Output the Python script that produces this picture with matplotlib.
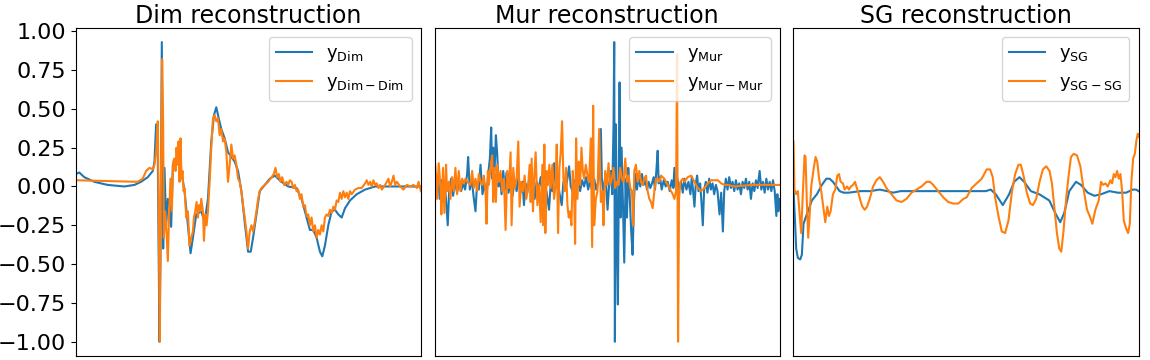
import numpy as np
import matplotlib
matplotlib.use("Agg")
import matplotlib.pyplot as plt

# (sample, value) readings for each reconstructed signal
dim_orig = [(0, 0.08), (10, 0.09), (25, 0.06), (55, 0.03), (95, 0.01), (145, 0.00), (175, 0.01),
            (195, 0.03), (215, 0.06), (230, 0.10), (235, 0.16), (240, 0.40), (245, 0.18), (250, -1.00),
            (253, -0.46), (257, 0.93), (261, -0.40), (265, 0.12), (270, -0.25), (275, -0.08), (280, -0.12),
            (285, -0.26), (290, 0.14), (295, 0.16), (300, 0.14), (305, 0.22), (315, 0.10), (325, -0.03),
            (335, -0.25), (343, -0.43), (350, -0.33), (360, -0.18), (375, -0.16), (385, -0.23), (395, -0.08),
            (405, 0.29), (413, 0.46), (420, 0.51), (427, 0.44), (435, 0.37), (445, 0.31), (455, 0.22),
            (475, 0.16), (485, 0.10), (495, -0.03), (505, -0.23), (515, -0.42), (523, -0.42), (530, -0.33),
            (540, -0.18), (550, -0.03), (565, 0.01), (580, 0.05), (595, 0.07), (615, 0.03), (635, 0.00),
            (660, -0.01), (675, -0.08), (690, -0.20), (700, -0.28), (710, -0.28), (720, -0.33), (730, -0.42),
            (737, -0.45), (745, -0.38), (755, -0.25), (765, -0.16), (775, -0.15), (785, -0.18), (795, -0.20),
            (805, -0.14), (820, -0.09), (840, -0.05), (865, -0.02), (895, 0.00), (945, 0.00), (995, 0.00),
            (1032, 0.00)]

dim_rec = [(0, 0.04), (185, 0.03), (200, 0.05), (210, 0.10), (220, 0.12), (230, 0.11), (235, 0.14),
           (240, 0.22), (245, 0.42), (248, -0.25), (251, -1.00), (254, -0.03), (258, 0.82), (261, 0.40),
           (263, -0.33), (267, -0.16), (271, -0.29), (275, -0.48), (279, -0.16), (283, 0.05), (287, -0.16),
           (291, 0.16), (295, 0.18), (298, 0.10), (301, 0.25), (304, 0.14), (307, 0.29), (310, 0.03),
           (313, 0.31), (316, 0.05), (319, 0.10), (322, -0.03), (325, -0.01), (330, -0.20), (335, -0.16),
           (340, -0.38), (345, -0.33), (350, -0.29), (353, -0.20), (357, -0.16), (361, -0.10), (365, -0.20),
           (368, -0.12), (372, -0.16), (375, -0.08), (380, -0.16), (383, -0.35), (387, -0.18), (391, -0.25),
           (395, -0.16), (400, 0.03), (405, 0.25), (410, 0.44), (415, 0.46), (420, 0.42), (425, 0.44),
           (430, 0.33), (435, 0.37), (440, 0.29), (445, 0.31), (450, 0.22), (455, 0.03), (460, 0.14),
           (465, 0.27), (470, 0.18), (475, 0.20), (480, 0.14), (485, 0.05), (490, 0.03), (495, -0.03),
           (500, -0.12), (505, -0.20), (510, -0.29), (515, -0.40), (520, -0.29), (525, -0.25), (530, -0.29),
           (535, -0.23), (540, -0.16), (545, -0.08), (550, -0.03), (555, -0.01), (565, 0.01), (575, 0.03),
           (585, 0.06), (592, 0.08), (597, 0.12), (602, 0.06), (607, 0.08), (612, 0.03), (617, 0.06),
           (623, 0.01), (630, 0.03), (635, 0.01), (640, 0.04), (645, 0.03), (650, -0.01), (655, 0.01),
           (660, -0.03), (665, -0.02), (670, -0.08), (675, -0.05), (680, -0.13), (685, -0.12), (690, -0.19),
           (695, -0.18), (700, -0.25), (705, -0.20), (710, -0.29), (715, -0.25), (720, -0.33), (725, -0.28),
           (730, -0.31), (735, -0.25), (740, -0.29), (745, -0.20), (750, -0.18), (755, -0.19), (760, -0.15),
           (765, -0.17), (770, -0.13), (775, -0.15), (780, -0.09), (785, -0.10), (790, -0.04), (795, -0.08),
           (800, -0.03), (805, -0.07), (810, -0.04), (815, -0.08), (820, -0.03), (825, -0.05), (835, -0.02),
           (845, -0.01), (855, -0.01), (865, 0.02), (870, 0.04), (875, 0.01), (880, 0.03), (885, 0.00),
           (890, 0.04), (895, 0.01), (900, 0.02), (905, -0.01), (910, 0.01), (915, -0.02), (925, 0.01),
           (935, 0.05), (940, 0.00), (945, 0.03), (950, 0.07), (955, 0.01), (960, 0.03), (970, 0.00),
           (980, -0.02), (990, 0.01), (1000, 0.00), (1010, 0.01), (1020, -0.01), (1025, 0.03), (1032, -0.03)]

mur_orig = [(0, 0.14), (5, -0.05), (10, 0.06), (15, -0.08), (20, 0.04), (25, -0.10), (30, 0.02),
            (35, -0.12), (39, -0.25), (43, -0.04), (49, 0.05), (55, -0.06), (61, 0.03), (67, -0.04),
            (73, 0.04), (79, -0.03), (85, 0.02), (91, -0.02), (97, 0.08), (100, 0.19), (105, -0.02),
            (111, 0.05), (116, -0.06), (122, -0.16), (127, 0.03), (132, -0.02), (137, 0.14), (143, -0.05),
            (149, 0.02), (155, -0.06), (160, 0.08), (165, 0.18), (169, 0.38), (172, 0.05), (175, 0.25),
            (179, 0.10), (183, 0.33), (187, 0.21), (191, 0.00), (195, 0.08), (200, -0.05), (205, 0.10),
            (210, -0.02), (215, 0.09), (221, -0.04), (227, 0.05), (233, -0.06), (239, 0.04), (245, -0.03),
            (251, 0.06), (257, -0.04), (263, 0.03), (267, -0.12), (272, 0.02), (277, -0.04), (283, 0.05),
            (289, -0.03), (295, 0.04), (299, -0.08), (305, 0.03), (311, -0.02), (317, 0.06), (323, -0.05),
            (329, 0.02), (335, -0.04), (342, -0.15), (347, 0.02), (352, -0.03), (357, 0.15), (362, 0.00),
            (367, 0.06), (373, -0.04), (380, -0.12), (385, 0.03), (391, -0.02), (397, 0.05), (402, 0.13),
            (407, 0.00), (412, -0.03), (417, 0.04), (423, -0.02), (429, 0.05), (435, -0.03), (441, 0.04),
            (447, 0.00), (453, 0.06), (459, -0.02), (465, 0.04), (471, -0.03), (477, 0.05), (483, -0.02),
            (489, 0.03), (493, 0.10), (497, 0.37), (500, 0.05), (505, -0.04), (511, 0.08), (517, -0.15),
            (522, 0.02), (527, 0.10), (531, -0.05), (535, 0.40), (537, 0.93), (539, -1.00), (542, 0.40),
            (545, -0.30), (548, -0.76), (551, 0.10), (553, 0.67), (556, -0.20), (559, 0.25), (563, -0.10),
            (567, -0.49), (571, 0.05), (575, -0.20), (579, 0.12), (583, -0.05), (588, -0.30), (592, -0.44),
            (596, -0.10), (600, 0.08), (605, -0.02), (610, 0.06), (615, 0.00), (620, 0.08), (625, 0.01),
            (630, 0.04), (635, -0.02), (640, 0.03), (645, -0.01), (650, 0.02), (655, 0.06), (659, -0.02),
            (663, 0.10), (667, 0.23), (670, 0.02), (674, 0.06), (679, -0.02), (685, 0.04), (691, 0.00),
            (697, 0.03), (703, -0.03), (709, 0.04), (714, -0.01), (717, 0.12), (721, 0.00), (726, 0.05),
            (731, -0.02), (737, 0.03), (742, -0.04), (747, 0.05), (753, -0.02), (759, 0.03), (765, -0.05),
            (769, 0.06), (773, -0.03), (777, -0.13), (781, 0.02), (785, 0.07), (789, -0.03), (794, 0.02),
            (798, -0.10), (802, -0.25), (806, -0.02), (811, 0.03), (816, -0.04), (821, 0.05), (826, -0.02),
            (831, 0.02), (836, -0.05), (841, 0.01), (846, -0.03), (852, -0.18), (857, -0.04), (862, -0.29),
            (866, -0.03), (871, 0.05), (876, -0.02), (881, 0.06), (886, -0.01), (891, 0.03), (896, -0.03),
            (901, 0.04), (906, -0.02), (911, 0.02), (916, -0.05), (921, 0.03), (926, -0.01), (931, 0.05),
            (936, -0.02), (941, 0.03), (946, -0.08), (951, 0.02), (956, -0.03), (961, 0.04), (966, -0.01),
            (972, 0.10), (977, -0.02), (982, 0.03), (987, -0.04), (992, 0.05), (997, -0.02), (1002, 0.03),
            (1007, -0.03), (1012, 0.04), (1017, -0.03), (1022, -0.19), (1025, -0.05), (1028, -0.16),
            (1032, -0.08)]

mur_rec = [(2, 0.14), (7, -0.08), (12, 0.15), (17, 0.01), (20, -0.18), (25, 0.12), (29, -0.17),
           (34, 0.14), (37, -0.03), (42, 0.03), (47, -0.08), (52, 0.06), (57, -0.03), (62, 0.12),
           (67, -0.05), (72, 0.10), (77, -0.03), (82, 0.05), (87, 0.02), (92, 0.05), (97, 0.03),
           (107, 0.01), (112, 0.10), (117, -0.01), (122, 0.05), (127, -0.03), (132, 0.08), (137, 0.03),
           (142, 0.01), (147, 0.07), (152, -0.03), (155, -0.24), (159, 0.10), (162, 0.01), (167, 0.12),
           (172, 0.20), (175, -0.10), (179, 0.12), (183, -0.10), (187, 0.14), (192, 0.03), (197, 0.10),
           (202, -0.03), (207, 0.05), (212, -0.28), (217, 0.10), (222, -0.01), (227, 0.22), (230, -0.25),
           (235, 0.12), (240, -0.01), (245, 0.05), (250, 0.29), (254, -0.13), (259, 0.03), (264, -0.03),
           (269, 0.07), (274, -0.08), (279, -0.01), (284, 0.14), (287, -0.10), (290, 0.18), (294, -0.16),
           (297, 0.03), (302, 0.22), (307, -0.12), (312, 0.01), (317, -0.23), (322, 0.14), (325, -0.25),
           (328, 0.27), (331, -0.30), (335, 0.10), (339, 0.01), (343, 0.14), (347, -0.01), (352, 0.14),
           (357, -0.08), (362, 0.01), (365, 0.27), (369, -0.30), (373, 0.12), (377, 0.22), (381, 0.42),
           (385, 0.05), (389, -0.03), (393, 0.12), (397, -0.12), (401, -0.20), (405, -0.16), (409, -0.25),
           (413, 0.10), (417, -0.05), (420, -0.37), (423, 0.31), (427, -0.08), (431, 0.16), (435, 0.01),
           (439, 0.25), (443, 0.10), (447, 0.05), (452, 0.14), (457, 0.07), (462, 0.03), (467, 0.31),
           (471, -0.39), (474, 0.52), (477, -0.25), (482, -0.08), (487, -0.03), (492, 0.37), (497, -0.10),
           (502, -0.03), (505, -0.25), (510, 0.10), (515, 0.01), (520, 0.15), (525, 0.01), (530, 0.05),
           (535, 0.12), (540, -0.01), (545, 0.03), (550, 0.01), (555, 0.12), (560, 0.05), (565, 0.03),
           (570, 0.18), (575, 0.03), (580, 0.07), (585, -0.01), (590, -0.03), (594, -0.25), (597, 0.10),
           (602, 0.14), (607, 0.03), (612, 0.10), (617, 0.03), (622, 0.01), (627, 0.05), (632, 0.07),
           (637, -0.03), (642, -0.08), (647, -0.10), (652, -0.14), (657, -0.03), (662, 0.05), (667, 0.05),
           (672, 0.03), (677, 0.07), (682, 0.06), (687, 0.05), (697, 0.01), (707, -0.03), (712, -0.05),
           (717, -0.08), (722, -0.03), (725, 0.85), (728, -1.00), (731, -0.08), (735, 0.03), (742, 0.05),
           (747, 0.03), (757, 0.06), (767, 0.07), (777, 0.03), (787, -0.01), (797, -0.03), (807, -0.01),
           (817, 0.02), (827, 0.04), (837, 0.04), (847, 0.04), (857, 0.02), (867, 0.01), (877, 0.01),
           (897, 0.00), (947, 0.01), (997, 0.01), (1032, 0.01)]

sg_orig = [(0, -0.02), (4, -0.20), (8, -0.40), (13, -0.46), (20, -0.47), (25, -0.44), (30, -0.24),
           (38, -0.19), (45, -0.15), (55, -0.09), (70, -0.05), (85, 0.01), (98, 0.05), (108, 0.05),
           (118, 0.03), (128, 0.00), (138, -0.03), (150, -0.04), (165, -0.04), (200, -0.03), (230, -0.03),
           (258, -0.02), (280, -0.03), (298, -0.04), (320, -0.03), (338, -0.03), (400, -0.03), (500, -0.03),
           (575, -0.03), (590, -0.02), (605, -0.05), (626, -0.12), (645, -0.05), (660, 0.03), (676, 0.06),
           (690, 0.03), (710, -0.03), (735, -0.05), (765, -0.09), (785, -0.18), (798, -0.23), (810, -0.17),
           (825, -0.03), (845, 0.03), (860, 0.01), (880, -0.04), (900, -0.06), (920, -0.05), (945, -0.03),
           (970, -0.04), (995, -0.04), (1015, -0.02), (1025, -0.02), (1032, -0.03)]

sg_rec = [(0, 0.29), (3, -0.02), (8, -0.05), (13, -0.03), (18, -0.17), (23, -0.30), (28, -0.04),
          (33, 0.20), (36, 0.19), (40, -0.11), (44, -0.33), (48, -0.19), (53, 0.00), (60, 0.11),
          (66, 0.19), (71, 0.16), (76, 0.06), (83, -0.03), (90, -0.15), (95, -0.23), (101, -0.13),
          (106, -0.19), (111, -0.16), (118, -0.05), (125, -0.02), (131, 0.07), (136, 0.08), (141, 0.03),
          (148, 0.02), (153, -0.02), (160, 0.00), (166, -0.02), (172, 0.00), (178, 0.01), (184, 0.03),
          (188, 0.00), (194, -0.04), (200, -0.09), (206, -0.13), (213, -0.15), (220, -0.13), (228, -0.08),
          (238, 0.00), (248, 0.04), (258, 0.06), (268, 0.03), (278, -0.01), (293, -0.05), (308, -0.09),
          (323, -0.10), (338, -0.08), (353, -0.04), (368, -0.02), (383, 0.00), (398, 0.03), (408, 0.03),
          (418, 0.01), (433, -0.03), (448, -0.07), (463, -0.10), (478, -0.11), (493, -0.11), (508, -0.08),
          (518, -0.07), (533, -0.01), (548, 0.02), (563, 0.05), (578, 0.11), (588, 0.11), (596, 0.06),
          (603, -0.07), (613, -0.19), (623, -0.29), (633, -0.30), (643, -0.22), (653, -0.04), (663, 0.08),
          (673, 0.14), (680, 0.14), (688, 0.07), (698, -0.04), (708, -0.11), (716, -0.12), (726, -0.08),
          (736, 0.03), (746, 0.11), (756, 0.13), (766, 0.10), (773, 0.02), (781, -0.15), (788, -0.30),
          (795, -0.40), (801, -0.42), (808, -0.28), (816, -0.07), (823, 0.07), (830, 0.19), (838, 0.21),
          (848, 0.20), (858, 0.13), (868, -0.02), (878, -0.15), (886, -0.19), (894, -0.24), (903, -0.15),
          (913, -0.09), (920, 0.03), (926, 0.01), (933, 0.02), (940, 0.00), (948, 0.04), (953, 0.02),
          (958, 0.08), (963, 0.06), (968, 0.10), (973, 0.05), (978, 0.08), (983, -0.03), (988, -0.22),
          (995, -0.27), (1001, -0.30), (1006, -0.24), (1011, 0.04), (1016, 0.18), (1021, 0.21),
          (1026, 0.30), (1030, 0.34), (1032, 0.32)]

titles = ["Dim reconstruction", "Mur reconstruction", "SG reconstruction"]
names = ["Dim", "Mur", "SG"]
series = [(dim_orig, dim_rec), (mur_orig, mur_rec), (sg_orig, sg_rec)]

fig = plt.figure(figsize=(11.5, 3.6), dpi=100)
lefts = [0.066, 0.378, 0.690]
for k in range(3):
    ax = fig.add_axes([lefts[k], 0.011, 0.300, 0.911])
    orig = np.array(series[k][0])
    rec = np.array(series[k][1])
    n = names[k]
    ax.plot(orig[:, 0], orig[:, 1], color="tab:blue", lw=1.5,
            label=r"$\mathrm{y_{%s}}$" % n)
    ax.plot(rec[:, 0], rec[:, 1], color="tab:orange", lw=1.5,
            label=r"$\mathrm{y_{%s-%s}}$" % (n, n))
    ax.set_xlim(0, 1032)
    ax.set_ylim(-1.092, 1.02)
    ax.set_xticks([])
    ax.set_title(titles[k], fontsize=17, pad=0)
    ax.legend(loc="upper right", fontsize=13)
    if k == 0:
        ax.set_yticks([-1.0, -0.75, -0.5, -0.25, 0.0, 0.25, 0.5, 0.75, 1.0])
        ax.tick_params(axis="y", labelsize=16)
    else:
        ax.set_yticks([])

fig.savefig("out.png", dpi=100)
